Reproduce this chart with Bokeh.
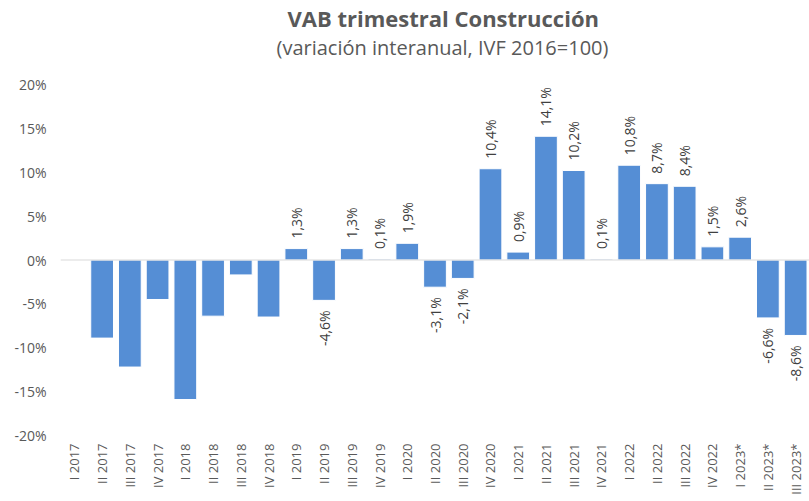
import math
from bokeh.plotting import figure
from bokeh.models import ColumnDataSource, Span, Title, FixedTicker, CustomJSTickFormatter, Range1d
from bokeh.core.properties import value
from bokeh.embed import file_html
from bokeh.resources import INLINE

quarters = ["I 2017", "II 2017", "III 2017", "IV 2017",
            "I 2018", "II 2018", "III 2018", "IV 2018",
            "I 2019", "II 2019", "III 2019", "IV 2019",
            "I 2020", "II 2020", "III 2020", "IV 2020",
            "I 2021", "II 2021", "III 2021", "IV 2021",
            "I 2022", "II 2022", "III 2022", "IV 2022",
            "I 2023*", "II 2023*", "III 2023*"]
growth = [None, -8.9, -12.2, -4.5, -15.9, -6.4, -1.7, -6.5,
          1.3, -4.6, 1.3, 0.1, 1.9, -3.1, -2.1, 10.4,
          0.9, 14.1, 10.2, 0.1, 10.8, 8.7, 8.4, 1.5,
          2.6, -6.6, -8.6]
labelled = [False] * 8 + [True] * 19
y_ticks = [-20, -15, -10, -5, 0, 5, 10, 15, 20]

title_text = "VAB trimestral Construcción"
subtitle_text = "(variación interanual, IVF 2016=100)"

FONT = "Open Sans"
BAR = "#558ED5"
GREY = "#595959"

tops = [float("nan") if v is None else v for v in growth]
src = ColumnDataSource(dict(q=quarters, v=tops))

pos = dict(q=[], v=[], t=[])
neg = dict(q=[], v=[], t=[])
for q, v, show in zip(quarters, growth, labelled):
    if not show or v is None:
        continue
    txt = ("%.1f%%" % v).replace(".", ",")
    d = pos if v >= 0 else neg
    d["q"].append(q); d["v"].append(v); d["t"].append(txt)

p = figure(x_range=quarters, y_range=Range1d(-20, 20), width=809, height=501,
           output_backend="svg", toolbar_location=None,
           min_border_left=60, min_border_right=0, min_border_top=84, min_border_bottom=66)
p.outline_line_color = None
p.grid.grid_line_color = None
p.background_fill_color = "white"

p.vbar(x="q", top="v", bottom=0, width=0.82, source=src,
       fill_color=BAR, line_color="white", line_width=1)

zero = Span(location=0, dimension="width", line_color="#D9D9D9", line_width=1.2)
p.add_layout(zero)

p.text(x="q", y="v", text="t", source=ColumnDataSource(pos), angle=math.pi / 2,
       text_align="left", text_baseline="middle", y_offset=-10,
       text_font=value(FONT), text_font_size="14px", text_color="#404040")
p.text(x="q", y="v", text="t", source=ColumnDataSource(neg), angle=math.pi / 2,
       text_align="right", text_baseline="middle", y_offset=10,
       text_font=value(FONT), text_font_size="14px", text_color="#404040")

p.yaxis.ticker = FixedTicker(ticks=y_ticks)
p.yaxis.formatter = CustomJSTickFormatter(code="return tick + '%';")
p.yaxis.axis_line_color = None
p.yaxis.major_tick_line_color = None
p.yaxis.minor_tick_line_color = None
p.yaxis.major_tick_out = 0
p.yaxis.major_label_standoff = 14
p.yaxis.major_label_text_font = FONT
p.yaxis.major_label_text_font_size = "14px"
p.yaxis.major_label_text_color = GREY

p.xaxis.axis_line_color = None
p.xaxis.major_tick_line_color = None
p.xaxis.major_tick_out = 0
p.xaxis.major_label_orientation = math.pi / 2
p.xaxis.major_label_standoff = 8
p.xaxis.major_label_text_font = FONT
p.xaxis.major_label_text_font_size = "13px"
p.xaxis.major_label_text_color = GREY

# spacer panel between the frame and the subtitle
p.add_layout(Title(text=" ", align="left", text_font=FONT, text_font_size="12px",
                   text_color="white", standoff=5), "above")
p.add_layout(Title(text=subtitle_text, align="left", text_font=FONT,
                   text_font_size="20px", text_font_style="normal",
                   text_color=GREY, standoff=0, offset=216), "above")
p.add_layout(Title(text=title_text, align="left", text_font=FONT,
                   text_font_size="22px", text_font_style="bold",
                   text_color=GREY, standoff=-2, offset=227), "above")

open("out.html", "w").write(file_html(p, INLINE))
